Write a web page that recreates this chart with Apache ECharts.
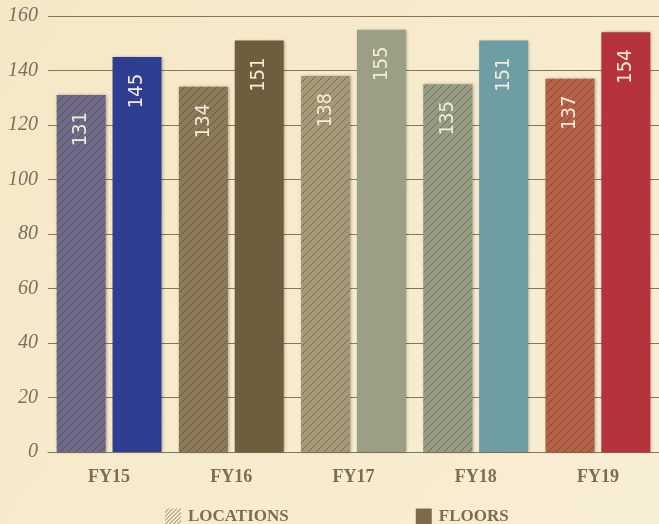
<!DOCTYPE html>
<html>
<head>
<meta charset="utf-8">
<script src="https://cdn.jsdelivr.net/npm/echarts@6/dist/echarts.min.js"></script>
<style>
  html, body { margin: 0; padding: 0; }
  #chart { width: 659px; height: 524px; }
</style>
</head>
<body>
<div id="chart"></div>
<script>
// 数据
const categories = ["FY15", "FY16", "FY17", "FY18", "FY19"];
const locations = [131, 134, 138, 135, 137];
const floors = [145, 151, 155, 151, 154];
const locationColors = ["#6e6a88", "#8c7a58", "#a49a78", "#959b85", "#b56248"];
const floorColors = ["#2f3d92", "#6e5e3e", "#9a9f85", "#6c9ea3", "#b5333a"];

// 斜线填充
const hatch = (bg, line, s = 8) => {
  const c = document.createElement("canvas");
  c.width = s;
  c.height = s;
  const ctx = c.getContext("2d");
  if (bg) {
    ctx.fillStyle = bg;
    ctx.fillRect(0, 0, s, s);
  }
  ctx.strokeStyle = line;
  ctx.lineWidth = 0.8;
  ctx.beginPath();
  ctx.moveTo(-1, s + 1); ctx.lineTo(s + 1, -1);
  ctx.stroke();
  return { image: c, repeat: "repeat" };
};

const gridColor = "#857656";
const barLabel = {
  show: true,
  position: "insideTop",
  rotate: 90,
  align: "right",
  verticalAlign: "middle",
  distance: 17,
  color: "#f4ecd6",
  fontFamily: "'DejaVu Sans Condensed', 'Liberation Sans Narrow', 'Roboto', sans-serif",
  fontSize: 20,
};
const shadow = { shadowColor: "rgba(40,30,10,0.35)", shadowBlur: 3, shadowOffsetX: 1 };

const myChart = echarts.init(document.getElementById("chart"));
myChart.setOption({
  backgroundColor: {
    type: "linear", x: 0, y: 0, x2: 1, y2: 1,
    colorStops: [
      { offset: 0, color: "#f5e8c6" },
      { offset: 1, color: "#f8eed4" },
    ],
  },
  animation: false,
  grid: { left: 48, right: -5, top: 16, bottom: 72 },
  legend: {
    left: 160,
    bottom: -6,
    itemWidth: 16,
    itemHeight: 16,
    itemGap: 127,
    icon: "rect",
    textStyle: {
      color: "#7d6d50",
      fontFamily: "Liberation Serif",
      fontWeight: "bold",
      fontSize: 17,
      padding: [2, 0, 0, 2],
    },
    data: ["LOCATIONS", "FLOORS"],
  },
  xAxis: {
    type: "category",
    data: categories,
    axisLine: { lineStyle: { color: gridColor } },
    axisTick: { show: false },
    axisLabel: {
      margin: 16,
      color: "#7d6d50",
      fontFamily: "Liberation Serif",
      fontWeight: "bold",
      fontSize: 18,
    },
  },
  yAxis: {
    type: "value",
    min: 0,
    max: 160,
    interval: 20,
    axisLine: { show: false },
    axisTick: { show: false },
    splitLine: { lineStyle: { color: gridColor, width: 1 } },
    axisLabel: {
      margin: 10,
      color: "#7a7060",
      fontFamily: "Liberation Serif",
      fontStyle: "italic",
      fontSize: 20,
    },
  },
  series: [
    {
      name: "LOCATIONS",
      type: "bar",
      barWidth: 49,
      barGap: "14%",
      itemStyle: { color: hatch(null, "#6e5e40", 4) },
      label: barLabel,
      data: locations.map((v, i) => ({
        value: v,
        itemStyle: { color: hatch(locationColors[i], "rgba(45,35,25,0.45)"), ...shadow },
      })),
    },
    {
      name: "FLOORS",
      type: "bar",
      barWidth: 49,
      itemStyle: { color: "#7d6b4a" },
      label: barLabel,
      data: floors.map((v, i) => ({
        value: v,
        itemStyle: { color: floorColors[i], ...shadow },
      })),
    },
  ],
});
</script>
</body>
</html>
